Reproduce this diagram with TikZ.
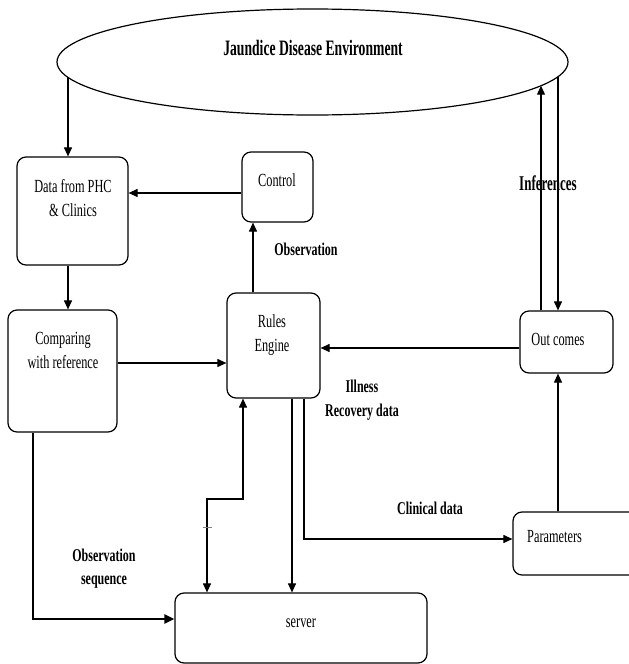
\documentclass[tikz,border=0pt]{standalone}
\usepackage{fontspec}
\setmainfont{Liberation Serif}[FakeStretch=0.666]
\newfontfamily\condfont{Liberation Serif}[FakeStretch=0.62]
\usetikzlibrary{arrows.meta,shapes.geometric}
\begin{document}
\begin{tikzpicture}[x=1pt,y=-1pt,
  box/.style={draw, rounded corners=9pt, line width=1.2pt, inner sep=0pt},
  txt/.style={font=\fontsize{18.5}{24}\selectfont, align=center, inner sep=0pt},
  lbl/.style={font=\fontsize{18}{23.5}\selectfont\bfseries, align=center, inner sep=0pt},
  big/.style={font=\fontsize{#1}{24}\selectfont\condfont\bfseries, inner sep=0pt},
  arr/.style={-{Triangle[length=9pt,width=8pt]}, line width=1.1pt},
  arrb/.style={{Triangle[length=9pt,width=8pt]}-{Triangle[length=9pt,width=8pt]}, line width=1.1pt}]
\useasboundingbox (0,0) rectangle (629,664);
\fill[white] (0,0) rectangle (629,664);

% environment ellipse
\node[draw, ellipse, minimum width=511pt, minimum height=106pt, line width=1.2pt, inner sep=0pt] (env) at (312.5,62) {};
\node[big=22] (envT) at (313,48) {Jaundice Disease Environment};

% boxes
\node[box, minimum width=111pt, minimum height=108pt] (data) at (72.5,211) {};
\node[box, minimum width=71pt, minimum height=70pt] (control) at (277.5,187) {};
\node[box, minimum width=109pt, minimum height=122pt] (comp) at (62.5,371) {};
\node[box, minimum width=93pt, minimum height=105pt] (rules) at (273.5,345.5) {};
\node[box, minimum width=93pt, minimum height=62pt] (outc) at (566.5,342) {};
\node[box, minimum width=132pt, minimum height=63pt] (params) at (579,543.5) {};
\node[box, minimum width=252pt, minimum height=70pt] (server) at (301,628) {};

% box texts
\node[txt] (dataT) at (73,198.5) {Data from PHC\\\& Clinics};
\node[txt] (controlT) at (277,180) {Control};
\node[txt] (compT) at (63,350.5) {Comparing\\with reference};
\node[txt] (rulesT) at (272,335) {Rules\\Engine};
\node[txt] (outcT) at (558,339) {Out comes};
\node[txt, anchor=west] (paramsT) at (527,537) {Parameters};
\node[txt] (serverT) at (301,623) {server};

% labels
\node[big=21] (infT) at (548,183) {Inferences};
\node[lbl] (obsT) at (306,249) {Observation};
\node[lbl] (illT) at (362,400) {Illness\\Recovery data};
\node[lbl] (clinT) at (430,508) {Clinical data};
\node[lbl] (obsseqT) at (104,568.5) {Observation\\sequence};

% helper coordinates
\coordinate (e1) at (68,77.4);
\coordinate (e2) at (558,76.7);
\coordinate (e3) at (541,85.7);
\coordinate (c1) at (0,193);
\coordinate (c2) at (0,363);
\coordinate (c3) at (0,348);
\coordinate (c4) at (33,619);
\coordinate (r1) at (253,0);
\coordinate (r2) at (292,0);
\coordinate (r3) at (304,539);
\coordinate (s1) at (207,499);
\coordinate (s2) at (243,499);

% connectors
\draw[arr] (e1) -- (e1 |- data.north);
\draw[arr] (e1 |- data.south) -- (e1 |- comp.north);
\draw[arr] (control.west |- c1) -- (data.east |- c1);
\draw[arr] (rules.north -| r1) -- (control.south -| r1);
\draw[arr] (comp.east |- c2) -- (rules.west |- c2);
\draw[arr] (outc.west |- c3) -- (rules.east |- c3);
\draw[arr] (e2) -- (e2 |- outc.north);
\draw[arr] (e3 |- outc.north) -- (e3);
\draw[arr] (params.north -| e2) -- (outc.south -| e2);
\draw[arr] (rules.south -| r2) -- (server.north -| r2);
\draw[arr] (rules.south -| r3) -- (r3) -- (params.west |- r3);
\draw[arrb] (server.north -| s1) -- (s1) -- (s2) -- (rules.south -| s2);
\draw[line width=0.6pt, gray] ([xshift=-4.5pt]s1 |- 0,527) -- ([xshift=4.5pt]s1 |- 0,527);
\draw[-{Triangle[length=10pt,width=9pt]}, line width=2.6pt] (comp.south -| c4) -- (c4) -- (server.west |- c4);
\end{tikzpicture}
\end{document}
